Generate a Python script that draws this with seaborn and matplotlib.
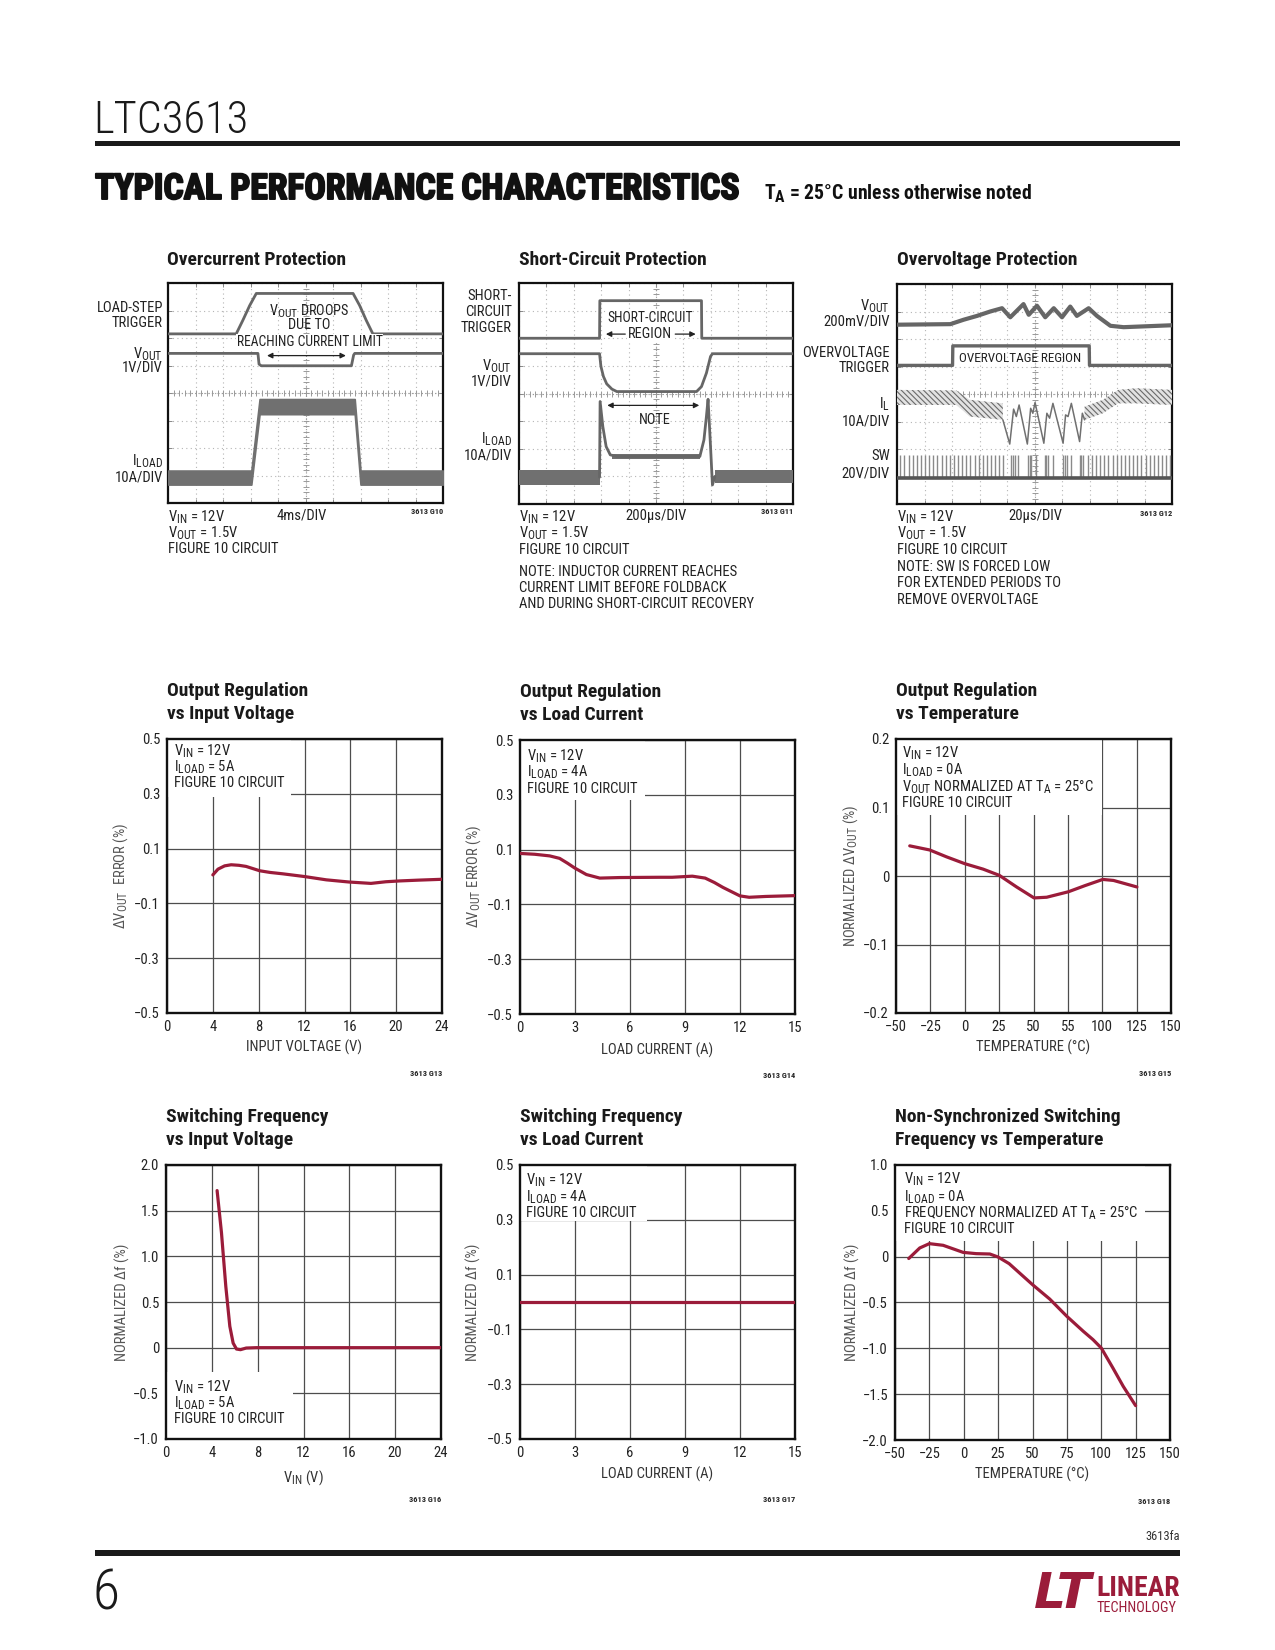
import numpy as np
import pandas as pd
import matplotlib
matplotlib.use("Agg")
import matplotlib.pyplot as plt
import seaborn as sns
from matplotlib.patches import Rectangle
import matplotlib.patheffects as pe
from matplotlib import font_manager as fm
import matplotlib._mathtext as _mt

# ---------------- DATA ----------------
# Scope 1 : Overcurrent protection (scope divisions, 10 x 8)
oc_trig_t = [0, 2.48, 2.72, 2.97, 3.21, 6.73, 6.97, 7.21, 7.45, 10]
oc_trig_v = [6.15, 6.15, 6.64, 7.18, 7.62, 7.62, 7.18, 6.64, 6.15, 6.15]
oc_vout_t = [0, 3.27, 3.31, 3.39, 6.67, 6.75, 6.79, 10]
oc_vout_v = [5.44, 5.44, 5.05, 4.99, 4.99, 5.38, 5.44, 5.44]
oc_iload_t = [0, 3.03, 3.33, 6.79, 7.0, 10]
oc_iload_hi = [1.18, 1.18, 3.78, 3.78, 1.18, 1.18]
oc_iload_lo = [0.67, 0.67, 3.23, 3.23, 0.67, 0.67]

# Scope 2 : Short-circuit protection
sc_trig_t = [0, 2.94, 2.95, 6.66, 6.67, 10]
sc_trig_v = [6.0, 6.0, 7.36, 7.36, 6.0, 6.0]
sc_vout_t = [0, 2.94, 2.99, 3.08, 3.2, 3.39, 3.57, 6.48, 6.66, 6.84, 6.99, 7.06, 10]
sc_vout_v = [5.44, 5.44, 4.98, 4.62, 4.35, 4.16, 4.07, 4.07, 4.25, 4.74, 5.34, 5.44, 5.44]
sc_iload_t = [2.94, 2.96, 3.06, 3.18, 3.33, 3.57, 6.6, 6.75, 6.84, 6.9, 6.99, 7.06, 7.15]
sc_iload_v = [0.97, 3.71, 2.8, 2.08, 1.78, 1.72, 1.72, 2.32, 3.17, 3.79, 2.08, 0.69, 1.0]
sc_band_left_t = [0, 2.94]
sc_band_right_t = [7.15, 10]
sc_band_mid_t = [3.4, 6.6]

# Scope 3 : Overvoltage protection
ov_vout_t = [0, 1.94, 2.42, 2.91, 3.39, 3.82, 4.12, 4.60, 4.79, 5.09, 5.39, 5.70, 6.00,
             6.30, 6.54, 6.97, 7.27, 7.76, 8.24, 10]
ov_vout_v = [6.52, 6.54, 6.70, 6.84, 7.00, 7.12, 6.79, 7.27, 6.88, 7.21, 6.79, 7.12, 6.79,
             7.18, 6.84, 7.12, 6.84, 6.48, 6.43, 6.50]
ov_trig_t = [0, 2.02, 2.03, 6.99, 7.0, 10]
ov_trig_v = [5.04, 5.04, 5.75, 5.75, 5.04, 5.04]
ov_il_band_t = [0, 2.16, 2.64, 3.85]
ov_il_band_hi = [4.15, 4.13, 3.79, 3.66]
ov_il_band_lo = [3.60, 3.60, 3.18, 3.06]
ov_il_band2_t = [6.82, 7.49, 8.04, 8.70, 10]
ov_il_band2_hi = [3.54, 3.79, 4.15, 4.21, 4.15]
ov_il_band2_lo = [3.06, 3.30, 3.66, 3.66, 3.60]
ov_il_t = [3.85, 4.10, 4.24, 4.34, 4.44, 4.74, 4.86, 4.94, 5.02, 5.34, 5.45, 5.55, 5.67,
           6.04, 6.13, 6.22, 6.34, 6.64, 6.74, 6.82]
ov_il_v = [3.06, 2.18, 3.45, 3.18, 3.60, 2.18, 3.48, 3.30, 3.69, 2.21, 3.30, 3.12, 3.66,
           2.21, 3.24, 3.18, 3.66, 2.27, 3.30, 3.06]
ov_sw_t = [0.12, 0.27, 0.42, 0.57, 0.72, 0.87, 1.02, 1.17, 1.32, 1.47, 1.62, 1.77, 1.92,
           2.07, 2.22, 2.37, 2.52, 2.67, 2.82, 2.97, 3.12, 3.27, 3.42, 3.57, 3.72, 3.87,
           4.16, 4.22, 4.28, 4.40, 4.76, 4.82, 4.88, 5.07, 5.37, 5.43, 5.49, 5.67,
           6.04, 6.10, 6.18, 6.34, 6.64, 6.70, 6.76,
           6.94, 7.09, 7.24, 7.39, 7.54, 7.69, 7.84, 7.99, 8.14, 8.29, 8.44, 8.59, 8.74,
           8.89, 9.04, 9.19, 9.34, 9.49, 9.64, 9.79, 9.94]
ov_sw_lo, ov_sw_hi = 0.93, 1.78

# Graph 4 : Output regulation vs input voltage
vin_x = [4.0, 4.45, 5.03, 5.6, 6.28, 6.9, 7.5, 8.1, 9.0, 10.1, 12.0, 13.9, 15.9, 17.8,
         19.1, 20.3, 22.0, 24.0]
vin_err = [0.004, 0.025, 0.037, 0.041, 0.039, 0.035, 0.027, 0.019, 0.013, 0.008, -0.002,
           -0.014, -0.022, -0.027, -0.021, -0.018, -0.015, -0.012]
# Graph 5 : Output regulation vs load current
load_x = [0, 0.8, 1.62, 2.16, 2.6, 2.98, 3.62, 4.35, 5.44, 7.6, 8.3, 9.4, 10.1, 10.6,
          11.07, 12.0, 12.5, 13.4, 15.0]
load_err = [0.086, 0.083, 0.077, 0.068, 0.05, 0.033, 0.009, -0.004, -0.002, -0.001, -0.001,
            0.003, -0.004, -0.02, -0.038, -0.069, -0.074, -0.071, -0.068]
# Graph 6 : Output regulation vs temperature
temp_x = [-40, -25.5, -13.3, 0, 13.4, 25.1, 37.7, 50.4, 59.6, 75.4, 87.5, 100.4, 108.2, 125.2]
temp_err = [0.044, 0.038, 0.028, 0.018, 0.010, 0.001, -0.016, -0.032, -0.031, -0.023,
            -0.014, -0.005, -0.0065, -0.016]
# Graph 7 : Switching frequency vs input voltage
swv_x = [4.46, 4.84, 5.22, 5.57, 5.86, 6.15, 6.5, 7.0, 7.9, 24.0]
swv_y = [1.72, 1.26, 0.67, 0.234, 0.05, -0.015, -0.022, -0.004, 0.0, 0.0]
# Graph 8 : Switching frequency vs load current
swl_x = [0, 15]
swl_y = [0.0, 0.0]
# Graph 9 : Non-synchronized switching frequency vs temperature
nsf_x = [-40, -32, -25, -15, -0.5, 9, 19, 25, 33, 50, 62.5, 75, 87, 94, 100, 108.5, 116, 125]
nsf_y = [-0.02, 0.095, 0.142, 0.124, 0.047, 0.033, 0.029, -0.004, -0.076, -0.305, -0.462,
         -0.651, -0.815, -0.905, -0.996, -1.215, -1.415, -1.625]

temp_ticks = [-50, -25, 0, 25, 50, 75, 100, 125, 150]
temp_ticklabels = ["\u221250", "\u221225", "0", "25", "50", "55", "100", "125", "150"]
reg_ticks = [0.5, 0.3, 0.1, -0.1, -0.3, -0.5]
reg_ticklabels = ["0.5", "0.3", "0.1", "\u22120.1", "\u22120.3", "\u22120.5"]

# ---------------- FONT SELECTION ----------------
sns.set_style("white")
_ttf = fm.fontManager.ttflist
_names = {f.name for f in _ttf}
NARROW, STRETCH = None, "normal"
for fam in ["Liberation Sans Narrow", "Roboto Condensed", "Open Sans Condensed",
            "Noto Sans Condensed", "DejaVu Sans Condensed", "Arial Narrow"]:
    if fam in _names:
        NARROW = fam
        break
if NARROW is None:
    for fam in ["Noto Sans", "Open Sans", "Roboto", "DejaVu Sans", "Liberation Sans"]:
        if any(f.name == fam and "condensed" in str(f.stretch) for f in _ttf):
            NARROW, STRETCH = fam, "condensed"
            break
SCALE = 1.0
if NARROW is None:
    NARROW = "Liberation Sans"
    SCALE = 0.86

plt.rcParams["font.family"] = [NARROW, "DejaVu Sans"]
plt.rcParams["font.stretch"] = STRETCH
plt.rcParams["mathtext.fontset"] = "custom"
plt.rcParams["mathtext.rm"] = f"{NARROW}:stretch={STRETCH}"
plt.rcParams["mathtext.it"] = f"{NARROW}:style=italic:stretch={STRETCH}"
plt.rcParams["mathtext.bf"] = f"{NARROW}:weight=bold:stretch={STRETCH}"
plt.rcParams["axes.unicode_minus"] = True
plt.rcParams["hatch.linewidth"] = 0.8
_mt.SHRINK_FACTOR = 0.8

RED = "#9b1c3a"
TRACE = "#666666"
TXT = "#222222"
FS = 10.5 * SCALE
TFS = 14 * SCALE
CODE_FS = 6 * SCALE
TLW = 2.0

W, H = 1275, 1650
fig = plt.figure(figsize=(W / 100, H / 100), dpi=100)
fig.patch.set_facecolor("white")
renderer = fig.canvas.get_renderer()


def fx(x):
    return x / W


def fy(y):
    return 1 - y / H


def ftext(x, y, s, **kw):
    kw.setdefault("fontsize", FS)
    kw.setdefault("color", TXT)
    kw.setdefault("va", "center")
    return fig.text(fx(x), fy(y), s, **kw)


def fit_width(t, target):
    w = t.get_window_extent(renderer).width
    if w > 0:
        t.set_fontsize(t.get_fontsize() * target / w)


def add_ax(x0, y0, x1, y1):
    return fig.add_axes([fx(x0), fy(y1), (x1 - x0) / W, (y1 - y0) / H])


# ---------------- PAGE HEADER / FOOTER ----------------
t = ftext(93, 121, "LTC3613", fontsize=31, color="#1a1a1a", fontweight="light")
fit_width(t, 155)
fig.add_artist(Rectangle((fx(95), fy(146)), fx(1180) - fx(95), 5 / H,
                         transform=fig.transFigure, color="#1a1a1a", lw=0))
t = ftext(95, 189, "TYPICAL PERFORMANCE CHARACTERISTICS", fontsize=25, fontweight="bold",
          color="#111", path_effects=[pe.withStroke(linewidth=1.4, foreground="#111")])
fit_width(t, 645)
t = ftext(764, 194, r"T$_{\mathbf{A}}$ = 25°C unless otherwise noted", fontsize=13,
          fontweight="bold", color="#111")
fit_width(t, 267)

ftext(1180, 1537, "3613fa", fontsize=9 * SCALE, ha="right", color="#333")
fig.add_artist(Rectangle((fx(95), fy(1556)), fx(1180) - fx(95), 6 / H,
                         transform=fig.transFigure, color="#1a1a1a", lw=0))
ftext(92, 1594, "6", fontsize=40, color="#1a1a1a", fontweight="light")
t = ftext(1034, 1594, "LT", fontsize=30, fontweight="bold", style="italic", color=RED,
          ha="left", family=["DejaVu Sans"])
fit_width(t, 58)
t = ftext(1096, 1589, "LINEAR", fontsize=21, fontweight="bold", color=RED, ha="left")
fit_width(t, 83)
t = ftext(1097, 1608, "TECHNOLOGY", fontsize=9.5, color=RED, ha="left")
fit_width(t, 80)


# ---------------- SCOPE PANELS ----------------
def scope_axes(box):
    ax = add_ax(*box)
    ax.set_xlim(0, 10)
    ax.set_ylim(0, 8)
    ax.set_xticks(range(0, 11))
    ax.set_yticks(range(0, 9))
    ax.set_xticklabels([])
    ax.set_yticklabels([])
    ax.tick_params(direction="in", length=3, width=0.7, colors="#888",
                   top=True, right=True, bottom=True, left=True)
    ax.grid(True, color="#b5b5b5", linestyle=(0, (1, 3)), linewidth=0.8)
    ax.axhline(4, color="#9a9a9a", lw=0.8, ls=(0, (1, 2)), zorder=1)
    ax.axvline(5, color="#9a9a9a", lw=0.8, ls=(0, (1, 2)), zorder=1)
    mx = np.arange(0, 10.01, 0.2)
    my = np.arange(0, 8.01, 0.2)
    ax.plot(mx, np.full_like(mx, 4.0), ls="none", marker="|", ms=4, mew=0.7, color="#999")
    ax.plot(np.full_like(my, 5.0), my, ls="none", marker="_", ms=4, mew=0.7, color="#999")
    for s in ax.spines.values():
        s.set_linewidth(1.6)
        s.set_color("#111")
    return ax


NOTE_FS = 10.3 * SCALE

# Scope 1
ax1 = scope_axes((168, 283, 443, 503))
ax1.plot(oc_trig_t, oc_trig_v, color=TRACE, lw=TLW, zorder=3)
ax1.plot(oc_vout_t, oc_vout_v, color=TRACE, lw=TLW, zorder=3)
ax1.fill_between(oc_iload_t, oc_iload_lo, oc_iload_hi, color="#707070", lw=1.2,
                 edgecolor="#707070", zorder=3)
ax1.text(5.15, 6.97, r"V$_{\mathrm{OUT}}$ DROOPS", ha="center", va="center",
         fontsize=NOTE_FS, color=TXT, zorder=5)
ax1.text(5.15, 6.46, "DUE TO", ha="center", va="center", fontsize=NOTE_FS, color=TXT, zorder=5)
t = ax1.text(5.15, 5.85, "REACHING CURRENT LIMIT", ha="center", va="center",
             fontsize=NOTE_FS, color=TXT, zorder=5, bbox=dict(fc="white", ec="none", pad=0.5))
fit_width(t, 146)
ax1.annotate("", xy=(3.5, 5.36), xytext=(6.57, 5.36),
             arrowprops=dict(arrowstyle="<|-|>", color="#222", lw=0.9, mutation_scale=8))
for lab, y in [("LOAD-STEP", 308), ("TRIGGER", 323), (r"V$_{\mathrm{OUT}}$", 354),
               ("1V/DIV", 368), (r"I$_{\mathrm{LOAD}}$", 461), ("10A/DIV", 478)]:
    ftext(163, y, lab, ha="right")
ftext(168, 517, r"V$_{\mathrm{IN}}$ = 12V")
ftext(302, 516, "4ms/DIV", ha="center")
ftext(443, 512, "3613 G10", ha="right", fontsize=CODE_FS, fontweight="bold")
ftext(168, 533, r"V$_{\mathrm{OUT}}$ = 1.5V")
ftext(168, 549, "FIGURE 10 CIRCUIT")
ftext(167, 260, "Overcurrent Protection", fontsize=TFS, fontweight="bold", color="#1a1a1a")

# Scope 2
ax2 = scope_axes((519, 283, 793, 504))
ax2.plot(sc_trig_t, sc_trig_v, color=TRACE, lw=TLW, zorder=3)
ax2.plot(sc_vout_t, sc_vout_v, color=TRACE, lw=TLW, zorder=3)
ax2.fill_between(sc_band_left_t, [0.69, 0.69], [1.23, 1.23], color="#707070", lw=0, zorder=3)
ax2.fill_between(sc_band_right_t, [0.77, 0.77], [1.23, 1.23], color="#707070", lw=0, zorder=3)
ax2.fill_between(sc_band_mid_t, [1.62, 1.62], [1.82, 1.82], color="#707070", lw=0, zorder=3)
ax2.plot(sc_iload_t, sc_iload_v, color=TRACE, lw=TLW, zorder=3)
t = ax2.text(4.78, 6.73, "SHORT-CIRCUIT", ha="center", va="center", fontsize=NOTE_FS,
             color=TXT, zorder=5, bbox=dict(fc="white", ec="none", pad=0.5))
fit_width(t, 85)
ax2.text(4.78, 6.15, "REGION", ha="center", va="center", fontsize=NOTE_FS, color=TXT,
         zorder=5, bbox=dict(fc="white", ec="none", pad=0.5))
ax2.annotate("", xy=(3.07, 6.15), xytext=(3.98, 6.15),
             arrowprops=dict(arrowstyle="-|>", color="#222", lw=0.9, mutation_scale=8))
ax2.annotate("", xy=(6.55, 6.15), xytext=(5.6, 6.15),
             arrowprops=dict(arrowstyle="-|>", color="#222", lw=0.9, mutation_scale=8))
ax2.annotate("", xy=(3.12, 3.57), xytext=(6.68, 3.57),
             arrowprops=dict(arrowstyle="<|-|>", color="#222", lw=0.9, mutation_scale=8))
ax2.text(4.96, 3.05, "NOTE", ha="center", va="center", fontsize=NOTE_FS, color=TXT, zorder=5)
for lab, y in [("SHORT-", 296), ("CIRCUIT", 312), ("TRIGGER", 328), (r"V$_{\mathrm{OUT}}$", 366),
               ("1V/DIV", 382), (r"I$_{\mathrm{LOAD}}$", 439), ("10A/DIV", 455)]:
    ftext(512, y, lab, ha="right")
ftext(519, 517, r"V$_{\mathrm{IN}}$ = 12V")
ftext(656, 516, "200\u00b5s/DIV", ha="center")
ftext(793, 512, "3613 G11", ha="right", fontsize=CODE_FS, fontweight="bold")
ftext(519, 533, r"V$_{\mathrm{OUT}}$ = 1.5V")
ftext(519, 550, "FIGURE 10 CIRCUIT")
ftext(519, 572, "NOTE: INDUCTOR CURRENT REACHES")
ftext(519, 588, "CURRENT LIMIT BEFORE FOLDBACK")
ftext(519, 604, "AND DURING SHORT-CIRCUIT RECOVERY")
ftext(519, 260, "Short-Circuit Protection", fontsize=TFS, fontweight="bold", color="#1a1a1a")

# Scope 3
ax3 = scope_axes((897, 284, 1172, 504))
ax3.plot(ov_vout_t, ov_vout_v, color=TRACE, lw=3.0, zorder=3)
ax3.plot(ov_trig_t, ov_trig_v, color=TRACE, lw=2.4, zorder=3)
ax3.fill_between(ov_il_band_t, ov_il_band_lo, ov_il_band_hi, facecolor="#e2e2e2",
                 edgecolor="#6a6a6a", hatch="\\\\\\\\\\\\", lw=0, zorder=3)
ax3.fill_between(ov_il_band2_t, ov_il_band2_lo, ov_il_band2_hi, facecolor="#e2e2e2",
                 edgecolor="#6a6a6a", hatch="\\\\\\\\\\\\", lw=0, zorder=3)
ax3.plot(ov_il_t, ov_il_v, color="#707070", lw=1.1, zorder=3)
ax3.vlines(ov_sw_t, ov_sw_lo, ov_sw_hi, color="#8a8a8a", lw=1.0, zorder=3)
ax3.plot([0, 10], [ov_sw_lo, ov_sw_lo], color="#555", lw=2.6, zorder=3)
t = ax3.text(4.48, 5.30, "OVERVOLTAGE REGION", ha="center", va="center", fontsize=NOTE_FS,
             color=TXT, zorder=5)
fit_width(t, 122)
for lab, y in [(r"V$_{\mathrm{OUT}}$", 306), ("200mV/DIV", 322), ("OVERVOLTAGE", 353),
               ("TRIGGER", 368), (r"I$_{\mathrm{L}}$", 404), ("10A/DIV", 421), ("SW", 456),
               ("20V/DIV", 473)]:
    ftext(890, y, lab, ha="right")
ftext(897, 517, r"V$_{\mathrm{IN}}$ = 12V")
ftext(1035, 516, "20\u00b5s/DIV", ha="center")
ftext(1172, 513, "3613 G12", ha="right", fontsize=CODE_FS, fontweight="bold")
ftext(897, 533, r"V$_{\mathrm{OUT}}$ = 1.5V")
ftext(897, 550, "FIGURE 10 CIRCUIT")
ftext(897, 567, "NOTE: SW IS FORCED LOW")
ftext(897, 583, "FOR EXTENDED PERIODS TO")
ftext(897, 600, "REMOVE OVERVOLTAGE")
ftext(897, 260, "Overvoltage Protection", fontsize=TFS, fontweight="bold", color="#1a1a1a")


# ---------------- LINE GRAPHS ----------------
def graph(box, xlim, xticks, xticklabels, ylim, yticks, yticklabels, xlabel, ylabel,
          x, y, title, code, note_lines, note_x, note_ys, mask, xlab_dy, ylab_dx):
    x0, y0, x1, y1 = box
    ax = add_ax(*box)
    df = pd.DataFrame({"x": x, "y": y})
    sns.lineplot(data=df, x="x", y="y", ax=ax, color=RED, lw=2.3, sort=False,
                 estimator=None, zorder=6)
    ax.set_xlim(*xlim)
    ax.set_ylim(*ylim)
    ax.set_xticks(xticks)
    ax.set_xticklabels(xticklabels)
    ax.set_yticks(yticks)
    ax.set_yticklabels(yticklabels)
    ax.tick_params(length=0, labelsize=FS, colors=TXT, pad=5)
    ax.grid(True, color="#4d4d4d", lw=0.9)
    ax.set_axisbelow(True)
    for s in ax.spines.values():
        s.set_visible(True)
        s.set_linewidth(1.7)
        s.set_color("#111")
    ax.set_xlabel(xlabel, fontsize=FS, color="#333")
    ax.set_ylabel(ylabel, fontsize=FS, color="#555")
    ax.xaxis.set_label_coords(0.5, -(xlab_dy - 7) / (y1 - y0))
    ax.yaxis.set_label_coords(-(ylab_dx - 7) / (x1 - x0), 0.5)
    mx0, my0, mx1, my1 = mask
    ax.add_patch(Rectangle(((mx0 - x0) / (x1 - x0), 1 - (my1 - y0) / (y1 - y0)),
                           (mx1 - mx0) / (x1 - x0), (my1 - my0) / (y1 - y0),
                           transform=ax.transAxes, fc="white", ec="none", zorder=2))
    for s, ny in zip(note_lines, note_ys):
        ax.text((note_x - x0) / (x1 - x0), 1 - (ny - y0) / (y1 - y0), s,
                transform=ax.transAxes, ha="left", va="center", fontsize=FS, color=TXT,
                zorder=5)
    ftext(x0, y0 - 48, title[0], fontsize=TFS, fontweight="bold", color="#1a1a1a")
    ftext(x0, y0 - 25, title[1], fontsize=TFS, fontweight="bold", color="#1a1a1a")
    ftext(x1, y1 + 61, code, ha="right", fontsize=CODE_FS, fontweight="bold")
    return ax


VIN = r"V$_{\mathrm{IN}}$ = 12V"
FIG10 = "FIGURE 10 CIRCUIT"

graph((167, 739, 442, 1013), (0, 24), [0, 4, 8, 12, 16, 20, 24],
      ["0", "4", "8", "12", "16", "20", "24"], (-0.5, 0.5), reg_ticks, reg_ticklabels,
      "INPUT VOLTAGE (V)", "\u0394V$_{\\mathrm{OUT}}$  ERROR (%)", vin_x, vin_err,
      ("Output Regulation", "vs Input Voltage"), "3613 G13",
      [VIN, r"I$_{\mathrm{LOAD}}$ = 5A", FIG10], 174, [751, 767, 783],
      (167, 739, 291, 797), 34, 44)

graph((520, 740, 795, 1014), (0, 15), [0, 3, 6, 9, 12, 15],
      ["0", "3", "6", "9", "12", "15"], (-0.5, 0.5), reg_ticks, reg_ticklabels,
      "LOAD CURRENT (A)", "\u0394V$_{\\mathrm{OUT}}$ ERROR (%)", load_x, load_err,
      ("Output Regulation", "vs Load Current"), "3613 G14",
      [VIN, r"I$_{\mathrm{LOAD}}$ = 4A", FIG10], 527, [756, 772, 789],
      (520, 740, 645, 800), 36, 44)

graph((896, 739, 1171, 1013), (-50, 150), temp_ticks, temp_ticklabels, (-0.2, 0.2),
      [0.2, 0.1, 0, -0.1, -0.2], ["0.2", "0.1", "0", "\u22120.1", "\u22120.2"],
      "TEMPERATURE (°C)", "NORMALIZED \u0394V$_{\\mathrm{OUT}}$ (%)", temp_x, temp_err,
      ("Output Regulation", "vs Temperature"), "3613 G15",
      [VIN, r"I$_{\mathrm{LOAD}}$ = 0A",
       r"V$_{\mathrm{OUT}}$ NORMALIZED AT T$_{\mathrm{A}}$ = 25°C", FIG10],
      902, [753, 770, 787, 803], (896, 739, 1102, 815), 34, 43)

graph((166, 1165, 441, 1439), (0, 24), [0, 4, 8, 12, 16, 20, 24],
      ["0", "4", "8", "12", "16", "20", "24"], (-1.0, 2.0),
      [2.0, 1.5, 1.0, 0.5, 0, -0.5, -1.0],
      ["2.0", "1.5", "1.0", "0.5", "0", "\u22120.5", "\u22121.0"],
      r"V$_{\mathrm{IN}}$ (V)", "NORMALIZED \u0394f (%)", swv_x, swv_y,
      ("Switching Frequency", "vs Input Voltage"), "3613 G16",
      [VIN, r"I$_{\mathrm{LOAD}}$ = 5A", FIG10], 174, [1387, 1403, 1419],
      (166, 1372, 293, 1439), 36, 43)

graph((520, 1165, 795, 1439), (0, 15), [0, 3, 6, 9, 12, 15],
      ["0", "3", "6", "9", "12", "15"], (-0.5, 0.5), reg_ticks, reg_ticklabels,
      "LOAD CURRENT (A)", "NORMALIZED \u0394f (%)", swl_x, swl_y,
      ("Switching Frequency", "vs Load Current"), "3613 G17",
      [VIN, r"I$_{\mathrm{LOAD}}$ = 4A", FIG10], 526, [1180, 1197, 1213],
      (520, 1165, 647, 1221), 35, 46)

graph((895, 1165, 1170, 1440), (-50, 150), temp_ticks,
      ["\u221250", "\u221225", "0", "25", "50", "75", "100", "125", "150"], (-2.0, 1.0),
      [1.0, 0.5, 0, -0.5, -1.0, -1.5, -2.0],
      ["1.0", "0.5", "0", "\u22120.5", "\u22121.0", "\u22121.5", "\u22122.0"],
      "TEMPERATURE (°C)", "NORMALIZED \u0394f (%)", nsf_x, nsf_y,
      ("Non-Synchronized Switching", "Frequency vs Temperature"), "3613 G18",
      [VIN, r"I$_{\mathrm{LOAD}}$ = 0A",
       r"FREQUENCY NORMALIZED AT T$_{\mathrm{A}}$ = 25°C", FIG10],
      904, [1179, 1197, 1213, 1229], (895, 1165, 1145, 1241), 34, 42)

fig.savefig("out.png", dpi=100, facecolor="white")
